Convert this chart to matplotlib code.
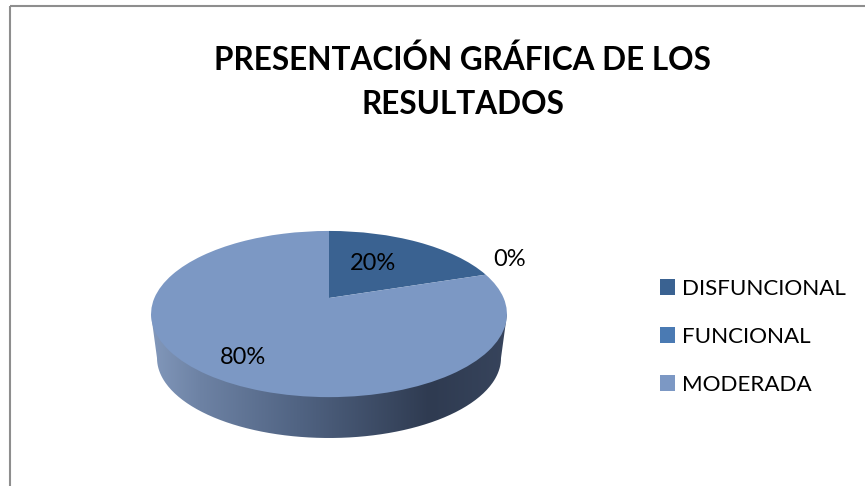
import numpy as np
import matplotlib
matplotlib.use("Agg")
import matplotlib.pyplot as plt
from matplotlib.transforms import Transform
from matplotlib.patches import PathPatch, Rectangle
from matplotlib.path import Path

title = "PRESENTACIÓN GRÁFICA DE LOS\nRESULTADOS"
categories = ["DISFUNCIONAL", "FUNCIONAL", "MODERADA"]
values = [20, 0, 80]
value_labels = ["20%", "0%", "80%"]
colors = ["#3A6291", "#4A7AB3", "#7C98C4"]

W, H = 865, 486
FONT = "Lato"
plt.rcParams["font.family"] = [FONT, "DejaVu Sans"]


class Perspective(Transform):
    """Tilted-disc projection of the unit pie into pixel coordinates."""
    input_dims = 2
    output_dims = 2
    has_inverse = False

    def __init__(self, cx, cy, a, b, k):
        super().__init__()
        self.cx, self.cy, self.a, self.b, self.k = cx, cy, a, b, k

    def transform_non_affine(self, xy):
        xy = np.asarray(xy, float)
        d = 1 + self.k * xy[:, 1]
        return np.column_stack((self.cx + self.a * xy[:, 0] / d,
                                self.cy - self.b * xy[:, 1] / d))


fig = plt.figure(figsize=(W / 100, H / 100), dpi=100, facecolor="white")
ax = fig.add_axes([0, 0, 1, 1])

wedges, _ = ax.pie(values, colors=colors, startangle=90, counterclock=False,
                   wedgeprops=dict(linewidth=0))
ax.set_aspect("auto")
ax.set_xlim(0, W)
ax.set_ylim(H, 0)
ax.axis("off")

# chart frame
ax.add_patch(Rectangle((9.5, 6), W + 20, H + 20, fill=False, ec="#8E8E8E", lw=1.5, zorder=0))

# pie wall with horizontal shading, clipped to the rim outline
t = np.linspace(np.pi, 2 * np.pi, 200)
upper = (329, 314, 178, 83.5)
lower = (329, 358, 172, 80)
front = np.column_stack((lower[0] + lower[2] * np.cos(t), lower[1] - lower[3] * np.sin(t)))
back = np.column_stack((upper[0] + upper[2] * np.cos(t[::-1]), upper[1] - upper[3] * np.sin(t[::-1]) * 0))
outline = np.vstack((front, back, front[:1]))
wall_clip = PathPatch(Path(outline), transform=ax.transData, fc="none", ec="none")
ax.add_patch(wall_clip)
stops = [(151, (0x82, 0x98, 0xBB)), (200, (0x6D, 0x82, 0xA4)), (300, (0x50, 0x63, 0x82)),
         (430, (0x2F, 0x3B, 0x51)), (507, (0x37, 0x44, 0x5C))]
xs = np.arange(151, 508)
grad = np.stack([np.interp(xs, [s[0] for s in stops], [s[1][c] for s in stops]) for c in range(3)], -1) / 255
im = ax.imshow(grad[None, :, :], extent=(151, 507, 440, 300), aspect="auto", zorder=1, interpolation="bilinear")
im.set_clip_path(wall_clip)
ax.set_xlim(0, W)
ax.set_ylim(H, 0)

persp = Perspective(329, 298, 174.6, 80, 0.193)
for w in wedges:
    w.set_transform(persp + ax.transData)
    w.set_clip_on(False)
    w.set_zorder(2)

label_pos = [(373, 263), (510, 259), (243, 357)]
for (x, y), s in zip(label_pos, value_labels):
    ax.text(x, y, s, ha="center", va="center", fontsize=17, color="black", zorder=3)

ax.text(462.5, 82, title, ha="center", va="center", fontsize=22.7, fontweight="bold",
        color="black", linespacing=1.62, zorder=3)

leg = ax.legend(wedges, categories, loc="upper left",
                bbox_to_anchor=(653.3 / W, 1 - 272 / H), bbox_transform=fig.transFigure,
                frameon=False, fontsize=16.1, handlelength=0.69, handleheight=0.75,
                handletextpad=0.3, labelspacing=1.26, borderpad=0.3, borderaxespad=0)

fig.savefig("out.png", dpi=100)
